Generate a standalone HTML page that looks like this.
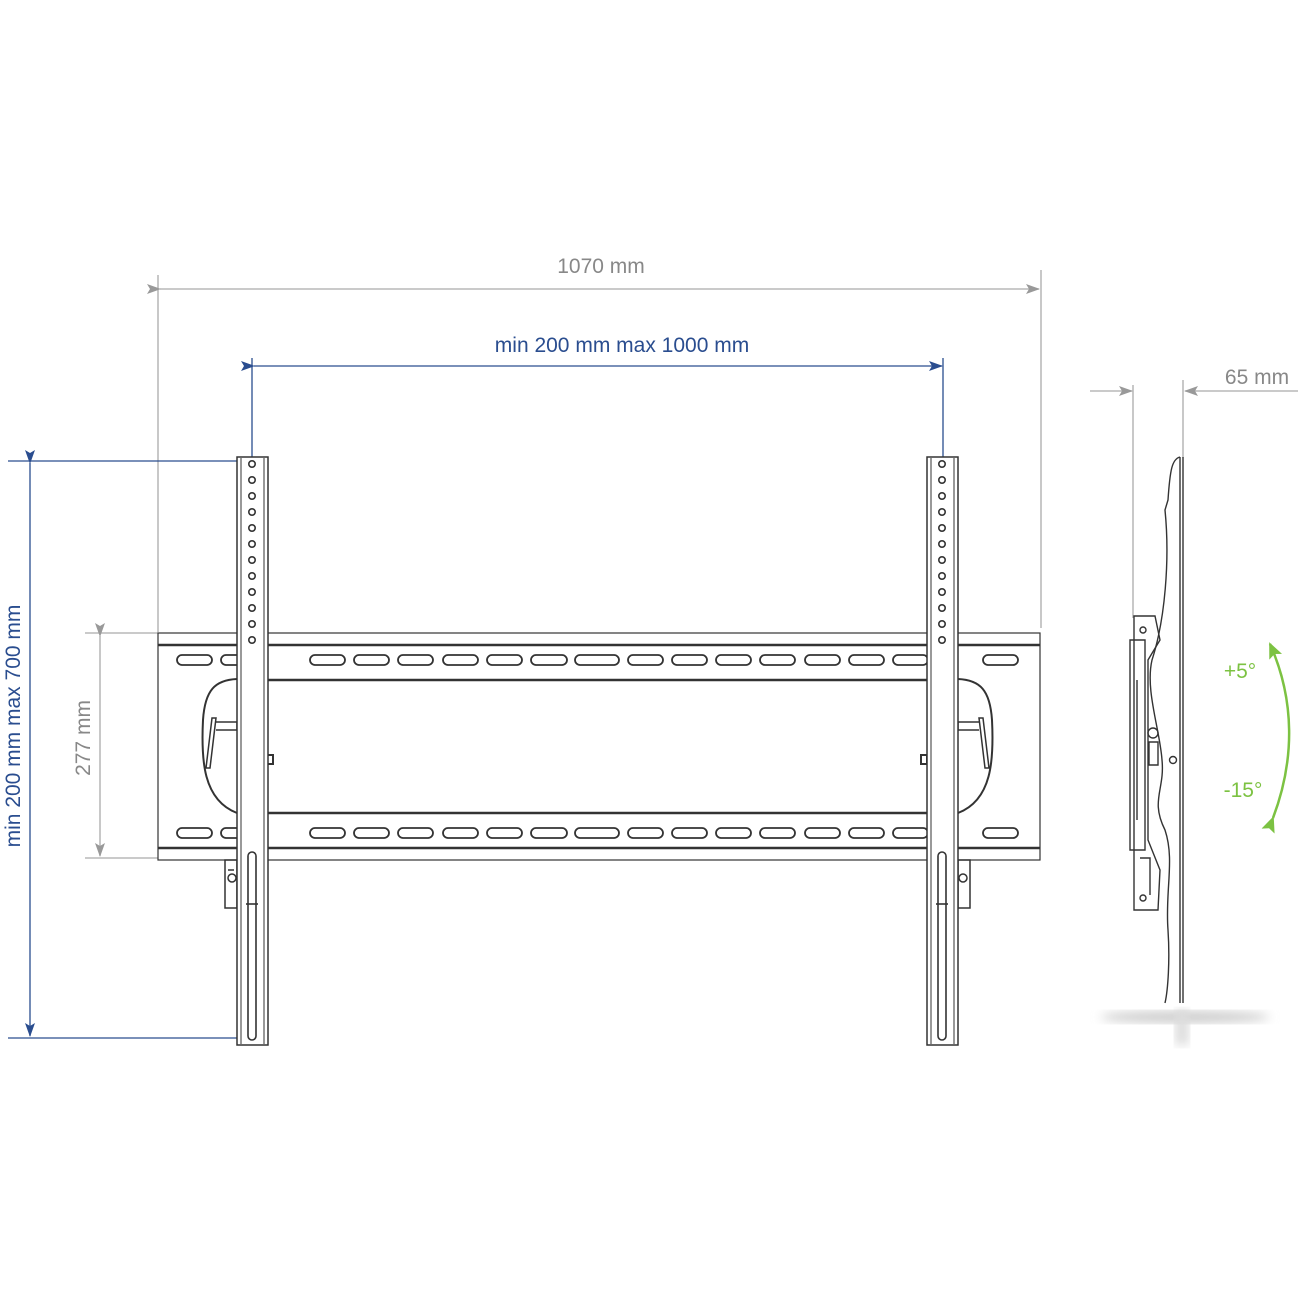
<!DOCTYPE html>
<html><head><meta charset="utf-8"><style>
html,body{margin:0;padding:0;background:#fff;}
svg{display:block;}
text{font-family:"Liberation Sans",sans-serif;}
</style></head><body>
<svg width="1300" height="1300" viewBox="0 0 1300 1300" xmlns="http://www.w3.org/2000/svg">
<defs>
<marker id="ag" markerWidth="14" markerHeight="10" refX="13" refY="5" orient="auto" markerUnits="userSpaceOnUse"><path d="M0,0 L14,5 L0,10 L3,5 Z" fill="#999"/></marker>
<marker id="ab" markerWidth="14" markerHeight="10" refX="13" refY="5" orient="auto" markerUnits="userSpaceOnUse"><path d="M0,0 L14,5 L0,10 L3,5 Z" fill="#2a4d8f"/></marker>
<marker id="agr" markerWidth="16" markerHeight="14" refX="14" refY="7" orient="auto" markerUnits="userSpaceOnUse"><path d="M0,0 L16,7 L0,14 L3,7 Z" fill="#7cc242"/></marker>
<filter id="bl"><feGaussianBlur stdDeviation="5"/></filter>
</defs>

<g stroke="#aaa" stroke-width="1.3" fill="none">
<line x1="158" y1="275" x2="158" y2="632"/>
<line x1="1041" y1="270" x2="1041" y2="628"/>
<line x1="160" y1="289" x2="1039" y2="289" marker-start="url(#ag)" marker-end="url(#ag)"/>
<line x1="85" y1="633" x2="158" y2="633"/>
<line x1="85" y1="858" x2="158" y2="858"/>
<line x1="100" y1="636" x2="100" y2="856" marker-start="url(#ag)" marker-end="url(#ag)"/>
<line x1="1133" y1="385" x2="1133" y2="618"/>
<line x1="1183" y1="380" x2="1183" y2="458"/>
<line x1="1090" y1="391" x2="1132" y2="391" marker-end="url(#ag)"/>
<line x1="1298" y1="391" x2="1185" y2="391" marker-end="url(#ag)"/>
</g>
<text x="601" y="273" font-size="21" fill="#888" text-anchor="middle">1070 mm</text>
<text x="1257" y="384" font-size="21" fill="#888" text-anchor="middle">65 mm</text>
<text transform="translate(90,738) rotate(-90)" font-size="21" fill="#888" text-anchor="middle">277 mm</text>

<g stroke="#2a4d8f" stroke-width="1.3" fill="none">
<line x1="252" y1="358" x2="252" y2="462"/>
<line x1="943" y1="358" x2="943" y2="462"/>
<line x1="254" y1="366" x2="942" y2="366" marker-start="url(#ab)" marker-end="url(#ab)"/>
<line x1="8" y1="461" x2="237" y2="461"/>
<line x1="8" y1="1038" x2="237" y2="1038"/>
<line x1="30" y1="463" x2="30" y2="1036" marker-start="url(#ab)" marker-end="url(#ab)"/>
</g>
<text x="622" y="352" font-size="21" fill="#2a4d8f" text-anchor="middle">min 200 mm max 1000 mm</text>
<text transform="translate(20,726) rotate(-90)" font-size="21" fill="#2a4d8f" text-anchor="middle">min 200 mm max 700 mm</text>

<g stroke="#333" fill="none">
<rect x="158" y="633" width="882" height="227" stroke-width="1.2"/>
<line x1="158" y1="645" x2="1040" y2="645" stroke-width="2.5"/>
<line x1="158" y1="848" x2="1040" y2="848" stroke-width="2.5"/>
<line x1="266" y1="680" x2="927" y2="680" stroke-width="2.5"/>
<line x1="266" y1="813" x2="927" y2="813" stroke-width="2.5"/>
<g stroke-width="1.8">
<rect x="177" y="655" width="35" height="10" rx="5"/><rect x="221" y="655" width="35" height="10" rx="5"/>
<rect x="310" y="655" width="35" height="10" rx="5"/><rect x="354" y="655" width="35" height="10" rx="5"/>
<rect x="398" y="655" width="35" height="10" rx="5"/><rect x="443" y="655" width="35" height="10" rx="5"/>
<rect x="487" y="655" width="35" height="10" rx="5"/><rect x="531" y="655" width="36" height="10" rx="5"/>
<rect x="575" y="655" width="44" height="10" rx="5"/><rect x="628" y="655" width="35" height="10" rx="5"/>
<rect x="672" y="655" width="35" height="10" rx="5"/><rect x="716" y="655" width="35" height="10" rx="5"/>
<rect x="760" y="655" width="35" height="10" rx="5"/><rect x="805" y="655" width="35" height="10" rx="5"/>
<rect x="849" y="655" width="35" height="10" rx="5"/><rect x="893" y="655" width="35" height="10" rx="5"/>
<rect x="983" y="655" width="35" height="10" rx="5"/>
<rect x="177" y="828" width="35" height="10" rx="5"/><rect x="221" y="828" width="35" height="10" rx="5"/>
<rect x="310" y="828" width="35" height="10" rx="5"/><rect x="354" y="828" width="35" height="10" rx="5"/>
<rect x="398" y="828" width="35" height="10" rx="5"/><rect x="443" y="828" width="35" height="10" rx="5"/>
<rect x="487" y="828" width="35" height="10" rx="5"/><rect x="531" y="828" width="36" height="10" rx="5"/>
<rect x="575" y="828" width="44" height="10" rx="5"/><rect x="628" y="828" width="35" height="10" rx="5"/>
<rect x="672" y="828" width="35" height="10" rx="5"/><rect x="716" y="828" width="35" height="10" rx="5"/>
<rect x="760" y="828" width="35" height="10" rx="5"/><rect x="805" y="828" width="35" height="10" rx="5"/>
<rect x="849" y="828" width="35" height="10" rx="5"/><rect x="893" y="828" width="35" height="10" rx="5"/>
<rect x="983" y="828" width="35" height="10" rx="5"/>
</g>
<path d="M237,679 C215,680 205,690 203,720 C201,760 203,800 237,813" stroke-width="2"/>
<path d="M958,679 C980,680 990,690 992,720 C994,760 992,800 958,813" stroke-width="2"/>
<path d="M212,718 L216,718 L210,768 L206,768 Z M216,722 L237,722 L237,730 L216,730" stroke-width="1.5"/>
<path d="M983,718 L979,718 L985,768 L989,768 Z M979,722 L958,722 L958,730 L979,730" stroke-width="1.5"/>
<rect x="267" y="755" width="6" height="9" stroke-width="2"/>
<rect x="921" y="755" width="6" height="9" stroke-width="2"/>
<path d="M225,860 L237,860 L237,908 L225,908 Z M228,870 L234,870" stroke-width="1.5"/>
<circle cx="232" cy="878" r="4" stroke-width="1.5"/>
<path d="M958,860 L970,860 L970,908 L958,908 Z" stroke-width="1.5"/>
<circle cx="963" cy="878" r="4" stroke-width="1.5"/>
</g>

<g stroke="#333" fill="#fff">
<rect x="237" y="457" width="31" height="588" stroke-width="1.5"/>
<rect x="927" y="457" width="31" height="588" stroke-width="1.5"/>
<g fill="none" stroke-width="1">
<line x1="241" y1="458" x2="241" y2="1044"/><line x1="264" y1="458" x2="264" y2="1044"/>
<line x1="931" y1="458" x2="931" y2="1044"/><line x1="954" y1="458" x2="954" y2="1044"/>
</g>
<g fill="none" stroke-width="1.6">
<rect x="248" y="852" width="8" height="188" rx="4"/>
<rect x="938" y="852" width="8" height="188" rx="4"/>
<line x1="246" y1="904" x2="258" y2="904"/><line x1="936" y1="904" x2="948" y2="904"/>
<circle cx="252" cy="464" r="3.2"/><circle cx="252" cy="480" r="3.2"/><circle cx="252" cy="496" r="3.2"/>
<circle cx="252" cy="512" r="3.2"/><circle cx="252" cy="528" r="3.2"/><circle cx="252" cy="544" r="3.2"/>
<circle cx="252" cy="560" r="3.2"/><circle cx="252" cy="576" r="3.2"/><circle cx="252" cy="592" r="3.2"/>
<circle cx="252" cy="608" r="3.2"/><circle cx="252" cy="624" r="3.2"/><circle cx="252" cy="640" r="3.2"/>
<circle cx="942" cy="464" r="3.2"/><circle cx="942" cy="480" r="3.2"/><circle cx="942" cy="496" r="3.2"/>
<circle cx="942" cy="512" r="3.2"/><circle cx="942" cy="528" r="3.2"/><circle cx="942" cy="544" r="3.2"/>
<circle cx="942" cy="560" r="3.2"/><circle cx="942" cy="576" r="3.2"/><circle cx="942" cy="592" r="3.2"/>
<circle cx="942" cy="608" r="3.2"/><circle cx="942" cy="624" r="3.2"/><circle cx="942" cy="640" r="3.2"/>
</g>
</g>

<ellipse cx="1185" cy="1017" rx="85" ry="6" fill="#ccc" filter="url(#bl)"/>
<rect x="1175" y="1010" width="14" height="35" fill="#ddd" filter="url(#bl)"/>
<g stroke="#333" fill="none" stroke-width="1.4">
<line x1="1180" y1="457" x2="1180" y2="1003"/>
<line x1="1183" y1="457" x2="1183" y2="1003"/>
<path d="M1180,457 C1172,459 1170,470 1168,500 L1165,510 C1170,560 1165,620 1152,660 C1145,690 1160,730 1162,760 C1165,790 1150,800 1165,830 C1175,860 1165,890 1168,930 C1170,960 1168,990 1165,1003"/>
<path d="M1134,616 L1155,616 L1160,640 L1148,660 L1148,840 L1160,870 L1158,910 L1134,910 Z"/>
<path d="M1130,640 L1145,640 L1145,850 L1130,850 Z"/>
<line x1="1137" y1="680" x2="1137" y2="820"/>
<path d="M1149,742 L1158,742 L1158,765 L1149,765 Z"/>
<circle cx="1153" cy="733" r="5"/>
<circle cx="1173" cy="760" r="3.5"/>
<circle cx="1143" cy="630" r="3"/><circle cx="1143" cy="898" r="3"/>
<path d="M1140,858 L1150,858 L1150,895"/>
</g>
<path d="M1273,818 C1295,760 1295,700 1270,644" stroke="#7cc242" stroke-width="2.5" fill="none" marker-start="url(#agr)" marker-end="url(#agr)"/>
<text x="1240" y="678" font-size="21" fill="#7cc242" text-anchor="middle">+5°</text>
<text x="1243" y="797" font-size="21" fill="#7cc242" text-anchor="middle">-15°</text>
</svg>
</body></html>
